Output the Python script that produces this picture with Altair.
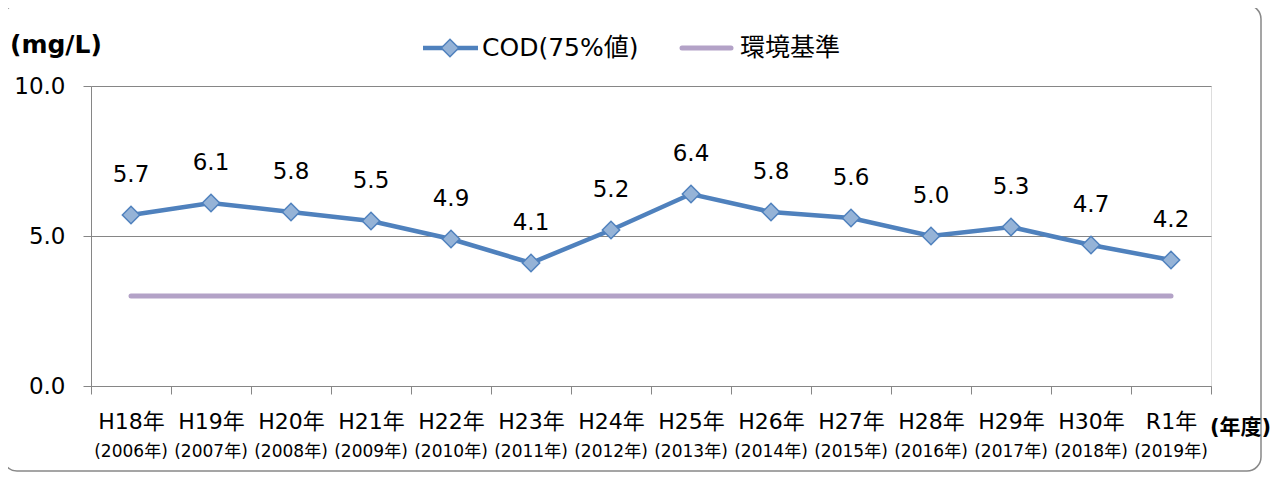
import altair as alt
import pandas as pd

# ---- data ----
fiscal_years = ["H18年", "H19年", "H20年", "H21年", "H22年", "H23年", "H24年",
                "H25年", "H26年", "H27年", "H28年", "H29年", "H30年", "R1年"]
calendar_years = ["(2006年)", "(2007年)", "(2008年)", "(2009年)", "(2010年)", "(2011年)",
                  "(2012年)", "(2013年)", "(2014年)", "(2015年)", "(2016年)", "(2017年)",
                  "(2018年)", "(2019年)"]
cod_values = [5.7, 6.1, 5.8, 5.5, 4.9, 4.1, 5.2, 6.4, 5.8, 5.6, 5.0, 5.3, 4.7, 4.2]
standard_value = 3.0
series_names = ["COD(75%値)", "環境基準"]
y_unit = "(mg/L)"
x_unit = "(年度)"

FONT = "DejaVu Sans, Noto Sans CJK JP"
BLUE = "#4f81bd"
BLUE_FILL = "#95b3d7"
PURPLE = "#b3a2c7"

df = pd.DataFrame({"fy": fiscal_years, "cy": calendar_years, "cod": cod_values,
                   "std": [standard_value] * len(fiscal_years)})
one = pd.DataFrame({"k": [0]})

x_enc = alt.X("fy:N", sort=fiscal_years,
              scale=alt.Scale(paddingInner=0, paddingOuter=0),
              axis=alt.Axis(title=None, labelAngle=0, labelFontSize=22, labelFont=FONT,
                            labelColor="#000", labelPadding=17, tickSize=8,
                            tickColor="#868686", domainColor="#868686", tickBand="extent",
                            grid=False))
y_scale = alt.Scale(domain=[0, 10], nice=False)
y_enc = alt.Y("cod:Q", scale=y_scale,
              axis=alt.Axis(title=None, values=[0, 5, 10], format=".1f", labelFontSize=23,
                            labelFont=FONT, labelColor="#000", labelPadding=18, tickSize=8,
                            tickColor="#868686", domainColor="#868686", grid=True,
                            gridColor="#868686", gridWidth=1.2))

base = alt.Chart(df)

std_line = base.mark_line(color=PURPLE, strokeWidth=5, strokeCap="round").encode(
    x=x_enc, y=alt.Y("std:Q", scale=y_scale))

cod_line = base.mark_line(color=BLUE, strokeWidth=4.5).encode(x=x_enc, y=y_enc)

cod_pts = base.mark_point(shape="diamond", size=300, filled=True, fill=BLUE_FILL,
                          stroke=BLUE, strokeWidth=1.5, opacity=1).encode(
    x=x_enc, y=alt.Y("cod:Q", scale=y_scale))

cod_text = base.mark_text(dy=-40, fontSize=23, font=FONT, color="#000").encode(
    x=x_enc, y=alt.Y("cod:Q", scale=y_scale), text=alt.Text("cod:Q", format=".1f"))

cy_text = base.mark_text(fontSize=17, font=FONT, color="#000", baseline="middle").encode(
    x=x_enc, y=alt.value(366), text="cy:N")

# units
unit_y = alt.Chart(one).mark_text(fontSize=25, font=FONT, fontWeight="bold", align="left",
                                  baseline="middle", color="#000").encode(
    x=alt.value(-81), y=alt.value(-41), text=alt.value(y_unit))
unit_x = alt.Chart(one).mark_text(fontSize=21, font=FONT, fontWeight="bold", align="left",
                                  baseline="middle", color="#000").encode(
    x=alt.value(1119), y=alt.value(342), text=alt.value(x_unit))

# legend
leg_line1 = alt.Chart(one).mark_rule(color=BLUE, strokeWidth=4.5).encode(
    x=alt.value(332), x2=alt.value(387), y=alt.value(-38))
leg_pt1 = alt.Chart(one).mark_point(shape="diamond", size=300, filled=True, fill=BLUE_FILL,
                                    stroke=BLUE, strokeWidth=1.5, opacity=1).encode(
    x=alt.value(359), y=alt.value(-38))
leg_txt1 = alt.Chart(one).mark_text(fontSize=25, font=FONT, align="left", baseline="middle",
                                    color="#000").encode(
    x=alt.value(391), y=alt.value(-38), text=alt.value(series_names[0]))
leg_line2 = alt.Chart(one).mark_rule(color=PURPLE, strokeWidth=5, strokeCap="round").encode(
    x=alt.value(591), x2=alt.value(640), y=alt.value(-38))
leg_txt2 = alt.Chart(one).mark_text(fontSize=25, font=FONT, align="left", baseline="middle",
                                    color="#000").encode(
    x=alt.value(649), y=alt.value(-38), text=alt.value(series_names[1]))

# outer frame
frame = alt.Chart(one).mark_rect(fill=None, fillOpacity=0, stroke="#888888", strokeWidth=1.5,
                                 cornerRadius=14).encode(
    x=alt.value(-88), x2=alt.value(1170), y=alt.value(-81), y2=alt.value(385))

chart = alt.layer(
    frame, std_line, cod_line, cod_pts, cod_text, cy_text, unit_y, unit_x,
    leg_line1, leg_pt1, leg_txt1, leg_line2, leg_txt2
).properties(
    width=1120, height=300,
    autosize=alt.AutoSizeParams(type="none"),
    padding={"left": 83, "top": 78, "right": 68, "bottom": 87},
).configure_view(fill="#f2f2f2", stroke=None).configure(background="white")

chart.save("out.html", embed_options={"renderer": "svg", "actions": False})
